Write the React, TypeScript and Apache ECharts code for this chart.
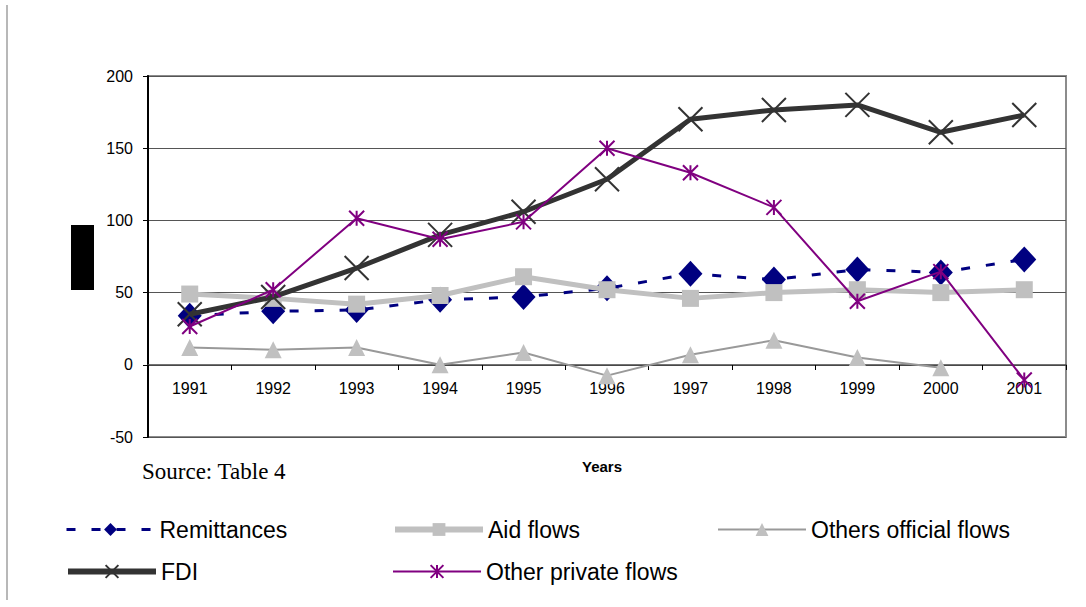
import React, { useEffect, useRef } from "react";
import * as echarts from "echarts";

const years = ["1991", "1992", "1993", "1994", "1995", "1996", "1997", "1998", "1999", "2000", "2001"];
const remittances = [34, 37, 38, 45, 47, 53, 63, 59, 66, 64, 73];
const aidFlows = [49, 46, 42, 48, 61, 52, 46, 50, 52, 50, 52];
const othersOfficial = [12, 10.5, 12, 0, 8.5, -7.5, 7, 17, 5, -2, null];
const fdi = [35, 47, 67, 90, 106, 128.5, 170, 176.5, 180, 161, 173];
const otherPrivate = [26.5, 52, 101.5, 87, 99, 150, 133, 109, 44, 64.5, -10.5];
const yMin = -50;
const yMax = 200;
const yStep = 50;

const crossPath = "path://M0,0L20,20M20,0L0,20";
const starPath = "path://M0,0L20,20M20,0L0,20M10,0L10,20";
const FONT = "'Liberation Sans', Arial, sans-serif";

export default function App() {
  const ref = useRef<HTMLDivElement>(null);
  useEffect(() => {
    if (!ref.current) return;
    const chart = echarts.init(ref.current, undefined, { renderer: "svg" });
    const legendBase = {
      orient: "horizontal",
      itemWidth: 88,
      itemHeight: 16,
      itemGap: 6,
      padding: 0,
      textStyle: { fontSize: 23, color: "#000", fontFamily: FONT },
      selectedMode: false,
    };
    chart.setOption({
      animation: false,
      backgroundColor: "#fff",
      grid: {
        left: 148,
        top: 76,
        width: 918,
        height: 361,
        show: true,
        borderColor: "#8c8c8c",
        borderWidth: 2,
        containLabel: false,
      },
      legend: [
        { ...legendBase, left: 65, top: 518, data: [{ name: "Remittances", lineStyle: { width: 3 } }] },
        { ...legendBase, left: 392, top: 518, data: [{ name: "Aid flows", lineStyle: { width: 6 } }] },
        { ...legendBase, left: 717, top: 518, data: [{ name: "Others official flows", lineStyle: { width: 2 } }] },
        { ...legendBase, left: 65, top: 560, data: [{ name: "FDI", lineStyle: { width: 6 } }] },
        { ...legendBase, left: 392, top: 560, data: [{ name: "Other private flows", lineStyle: { width: 2 } }] },
      ],
      xAxis: {
        type: "category",
        data: years,
        boundaryGap: true,
        offset: -72,
        axisLine: { onZero: false, lineStyle: { color: "#444", width: 1.5 } },
        axisTick: { show: true, length: 5, inside: false, lineStyle: { color: "#000" } },
        axisLabel: { color: "#000", fontSize: 16, fontFamily: FONT, margin: 15 },
        splitLine: { show: false },
      },
      yAxis: {
        type: "value",
        min: yMin,
        max: yMax,
        interval: yStep,
        axisLine: { show: true, lineStyle: { color: "#000", width: 2 } },
        axisTick: { show: true, length: 5, lineStyle: { color: "#000" } },
        axisLabel: { color: "#000", fontSize: 16, fontFamily: FONT, margin: 15 },
        splitLine: { show: true, lineStyle: { color: "#555", width: 1 } },
      },
      series: [
        {
          name: "Remittances",
          type: "line",
          data: remittances,
          symbol: "diamond",
          symbolSize: [24, 26],
          itemStyle: { color: "#000080" },
          lineStyle: { color: "#000080", width: 3, type: [9, 16] },
          z: 2,
        },
        {
          name: "Aid flows",
          type: "line",
          data: aidFlows,
          symbol: "rect",
          symbolSize: 17,
          itemStyle: { color: "#c0c0c0" },
          lineStyle: { color: "#c0c0c0", width: 5 },
          z: 3,
        },
        {
          name: "Others official flows",
          type: "line",
          data: othersOfficial,
          connectNulls: false,
          symbol: "triangle",
          symbolSize: 17,
          itemStyle: { color: "#c0c0c0" },
          lineStyle: { color: "#999999", width: 2 },
          z: 4,
        },
        {
          name: "FDI",
          type: "line",
          data: fdi,
          symbol: crossPath,
          symbolSize: 24,
          itemStyle: { color: "#333333", borderColor: "#333333", borderWidth: 2 },
          lineStyle: { color: "#333333", width: 5 },
          z: 5,
        },
        {
          name: "Other private flows",
          type: "line",
          data: otherPrivate,
          symbol: starPath,
          symbolSize: 15,
          itemStyle: { color: "#800080", borderColor: "#800080", borderWidth: 2 },
          lineStyle: { color: "#800080", width: 2 },
          z: 6,
        },
      ],
      graphic: [
        {
          type: "line",
          shape: { x1: 7, y1: 5, x2: 7, y2: 600 },
          style: { stroke: "#a0a0a0", lineWidth: 1.5 },
        },
        {
          type: "rect",
          shape: { x: 71, y: 225, width: 23, height: 65 },
          style: { fill: "#000" },
        },
        {
          type: "text",
          left: 142,
          top: 460,
          style: { text: "Source: Table 4", fontSize: 23, fontFamily: "'Liberation Serif', 'Times New Roman', serif", fill: "#000" },
        },
        {
          type: "text",
          left: 582,
          top: 459,
          style: { text: "Years", fontSize: 15, fontWeight: "bold", fontFamily: FONT, fill: "#000" },
        },
      ],
    });
    return () => chart.dispose();
  }, []);
  return (
    <div
      ref={ref}
      style={{ position: "fixed", left: 0, top: 0, width: 1086, height: 607 }}
    />
  );
}
